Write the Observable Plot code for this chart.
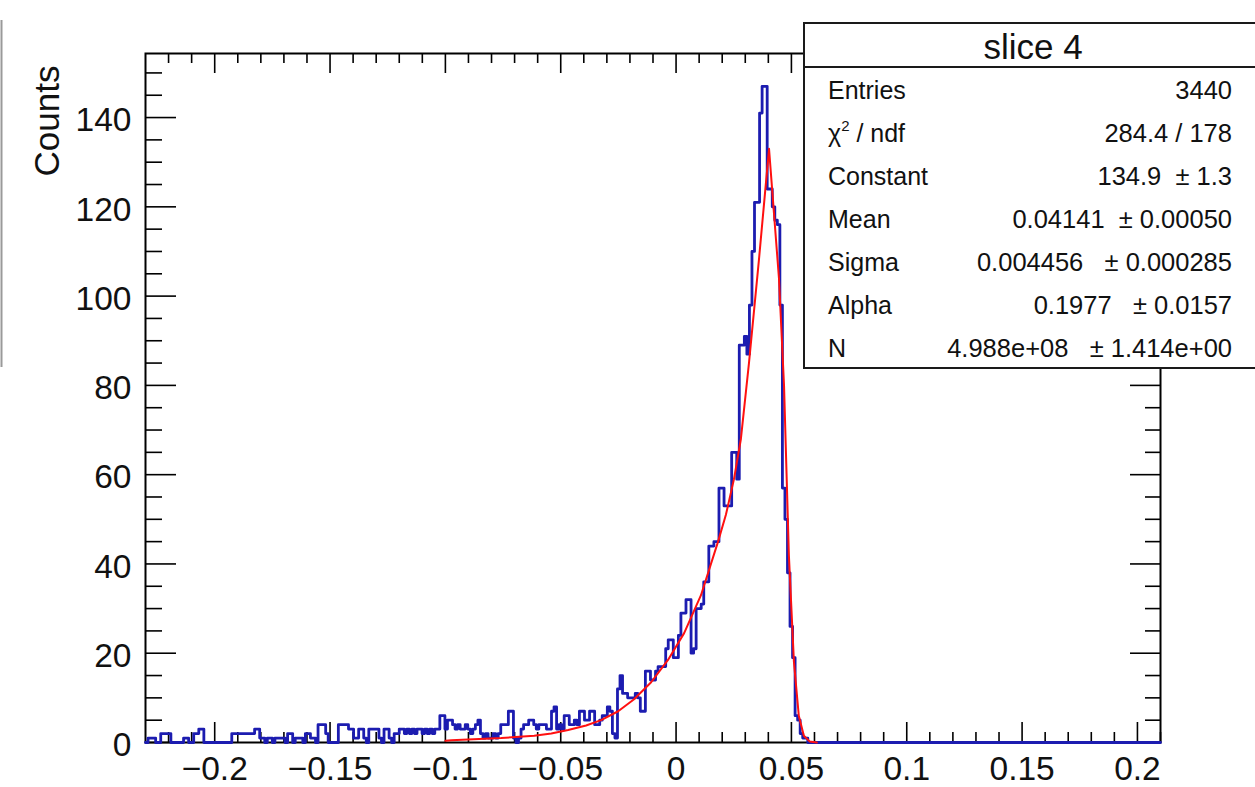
<!DOCTYPE html>
<html><head><meta charset="utf-8">
<script src="https://cdn.jsdelivr.net/npm/d3@7"></script>
<script src="https://cdn.jsdelivr.net/npm/@observablehq/plot@0.6"></script>
<style>
html,body{margin:0;padding:0;background:#fff;}
#wrap{position:relative;width:1255px;height:787px;overflow:hidden;background:#fff;}
#wrap svg{position:absolute;left:0;top:0;}
</style></head>
<body><div id="wrap"></div>
<script>
// ---- histogram definition (ROOT TH1: 400 bins over [-0.23, 0.21]) ----
const xMin = -0.23, xMax = 0.21, nBins = 400;
const counts = [
0,1,1,1,0,0,2,2,2,2, 0,0,0,0,0,1,1,0,0,2, 2,3,3,0,0,0,0,0,0,0, 0,0,0,0,2,2,2,2,2,2,
2,2,2,3,3,1,1,0,1,1, 0,1,1,1,1,0,2,2,0,1, 1,1,0,2,2,1,1,0,4,4, 4,2,0,0,0,0,4,4,4,4,
3,3,1,1,3,3,1,0,3,3, 3,3,1,0,3,3,1,0,2,2, 3,3,2,3,2,3,2,3,3,2, 3,2,3,2,3,3,6,6,3,5,
5,4,3,4,3,3,4,3,2,3, 4,5,2,1,2,1,1,2,1,2, 4,4,4,7,7,1,0,1,3,4, 4,5,5,4,3,4,4,4,3,3,
7,8,3,4,3,6,6,4,4,5, 4,7,7,5,5,7,7,4,4,5, 6,6,8,7,2,1,12,15,11,11, 10,10,10,11,10,7,7,16,16,14,
14,16,17,17,17,21,23,23,19,19, 24,29,29,32,32,20,21,30,30,31, 36,36,44,44,45,45,57,57,53,53, 53,65,65,59,89,89,91,87,98,110,
121,121,141,147,147,124,124,120,117,116, 98,57,50,38,26,19,6,5,2,1, 1,0,0,0,0,0,0,0,0,0, 0,0,0,0,0,0,0,0,0,0,
0,0,0,0,0,0,0,0,0,0, 0,0,0,0,0,0,0,0,0,0, 0,0,0,0,0,0,0,0,0,0, 0,0,0,0,0,0,0,0,0,0,
0,0,0,0,0,0,0,0,0,0, 0,0,0,0,0,0,0,0,0,0, 0,0,0,0,0,0,0,0,0,0, 0,0,0,0,0,0,0,0,0,0,
0,0,0,0,0,0,0,0,0,0, 0,0,0,0,0,0,0,0,0,0, 0,0,0,0,0,0,0,0,0,0, 0,0,0,0,0,0,0,0,0,0
];
// ---- fitted curve (x, counts) ----
const fitX = [-0.1,-0.0974,-0.0758,-0.0615,-0.0541,-0.0468,-0.039,-0.0325,-0.0251,-0.0182,-0.0108,-0.0035,0.0035,0.0108,0.0182,0.0216,0.0251,0.0281,0.0316,0.0359,0.0403,0.0446,0.0468,0.0489,0.0511,0.0532,0.0554,0.058,0.061];
const fitY = [0.4,0.5,1.0,1.5,2.0,2.8,3.8,5.0,7.0,9.7,13.5,18.5,24.5,33,45,51,59,68,85,108,133,104,80,42,18,6,1.5,0.2,0];
// ---- axes ----
const yMaxAxis = 154.35;
const xMajor = [-0.2,-0.15,-0.1,-0.05,0,0.05,0.1,0.15,0.2];
const xMinor = [-0.22,-0.21,-0.19,-0.18,-0.17,-0.16,-0.14,-0.13,-0.12,-0.11,-0.09,-0.08,-0.07,-0.06,-0.04,-0.03,-0.02,-0.01,0.01,0.02,0.03,0.04,0.06,0.07,0.08,0.09,0.11,0.12,0.13,0.14,0.16,0.17,0.18,0.19,0.21];
const yMajor = [0,20,40,60,80,100,120,140];
const yMinor = [5,10,15,25,30,35,45,50,55,65,70,75,85,90,95,105,110,115,125,130,135,145,150];
const yTitle = "Counts";
// ---- stats box ----
const statTitle = "slice 4";
const statLabels = ["Entries","χ2 / ndf","Constant","Mean","Sigma","Alpha","N"];
const statValues = ["3440","284.4 / 178","134.9  ± 1.3","0.04141  ± 0.00050","0.004456   ± 0.000285","0.1977   ± 0.0157","4.988e+08   ± 1.414e+00"];

const W = 1255, H = 787;
const mL = 145, mR = 95, mT = 53, mB = 45;
const iW = W - mL - mR, iH = H - mT - mB;
const font = '"Liberation Sans", Arial, Helvetica, sans-serif';
const bw = (xMax - xMin) / nBins;
const hist = counts.map((c, i) => ({x: xMin + i * bw, y: c}));
hist.push({x: xMax, y: counts[counts.length - 1]});
const fit = fitX.map((x, i) => ({x, y: fitY[i]}));
const fmt = d3.format("~g");
const tk = "#000";

const chart = Plot.plot({
  width: W, height: H,
  marginLeft: mL, marginRight: mR, marginTop: mT, marginBottom: mB,
  x: {domain: [xMin, xMax], axis: null},
  y: {domain: [0, yMaxAxis], axis: null},
  style: {fontFamily: font, background: "transparent", color: "#000"},
  marks: [
    // ticks, drawn inward on all four sides
    Plot.ruleX(xMajor, {x: d => d, insetTop: iH - 20, stroke: tk, strokeWidth: 1.6}),
    Plot.ruleX(xMinor, {x: d => d, insetTop: iH - 10, stroke: tk, strokeWidth: 1.6}),
    Plot.ruleX(xMajor, {x: d => d, insetBottom: iH - 20, stroke: tk, strokeWidth: 1.6}),
    Plot.ruleX(xMinor, {x: d => d, insetBottom: iH - 10, stroke: tk, strokeWidth: 1.6}),
    Plot.ruleY(yMajor, {y: d => d, insetRight: iW - 31, stroke: tk, strokeWidth: 1.6}),
    Plot.ruleY(yMinor, {y: d => d, insetRight: iW - 17, stroke: tk, strokeWidth: 1.6}),
    Plot.ruleY(yMajor, {y: d => d, insetLeft: iW - 30, stroke: tk, strokeWidth: 1.6}),
    Plot.ruleY(yMinor, {y: d => d, insetLeft: iW - 15, stroke: tk, strokeWidth: 1.6}),
    Plot.frame({stroke: tk, strokeWidth: 2}),
    // tick labels
    Plot.text(xMajor, {x: d => d, frameAnchor: "bottom", dy: 27, text: d => fmt(d), fontSize: 33.5, fill: "#111", lineAnchor: "middle"}),
    Plot.text(yMajor, {y: d => d, frameAnchor: "left", dx: -14, dy: 3, text: d => String(d), fontSize: 33.5, fill: "#111", textAnchor: "end", lineAnchor: "middle"}),
    Plot.text([yTitle], {frameAnchor: "top-left", dx: -87, dy: 12, text: d => d, rotate: -90, textAnchor: "end", lineAnchor: "bottom", fontSize: 35, fill: "#111"}),
    // histogram outline
    Plot.line(hist, {x: "x", y: "y", curve: "step-after", stroke: "#1c1cb0", strokeWidth: 2.8}),
    // fit function
    Plot.line(fit, {x: "x", y: "y", stroke: "#ff1010", strokeWidth: 2})
  ]
});
document.getElementById("wrap").appendChild(chart);

// overlay: stats box and the window edge at left
const ov = d3.select("#wrap").append("svg").attr("width", W).attr("height", H)
  .style("font-family", font).style("pointer-events", "none");
ov.append("line").attr("x1", 1.5).attr("x2", 1.5).attr("y1", 20).attr("y2", 367)
  .attr("stroke", "#9a9a9a").attr("stroke-width", 2);
const bx = 804, by = 23, bwid = 460, bh = 345;
ov.append("rect").attr("x", bx).attr("y", by).attr("width", bwid).attr("height", bh)
  .attr("fill", "#fff").attr("stroke", "#1a1a1a").attr("stroke-width", 2);
ov.append("line").attr("x1", bx).attr("x2", W).attr("y1", 67).attr("y2", 67)
  .attr("stroke", "#1a1a1a").attr("stroke-width", 2);
ov.append("text").attr("x", 1033).attr("y", 59).attr("text-anchor", "middle")
  .attr("font-size", 35).attr("fill", "#111").text(statTitle);
statLabels.forEach((lab, k) => {
  const yb = 99 + 43 * k;
  const t = ov.append("text").attr("x", 828).attr("y", yb).attr("font-size", 25).attr("fill", "#111");
  if (lab.startsWith("χ2")) {
    t.append("tspan").text("χ");
    t.append("tspan").attr("font-size", 15).attr("dy", -11).text("2");
    t.append("tspan").attr("dy", 11).text(" / ndf");
  } else {
    t.text(lab);
  }
  ov.append("text").attr("x", 1232).attr("y", yb).attr("text-anchor", "end")
    .attr("xml:space", "preserve")
    .attr("font-size", 25.5).attr("fill", "#111").style("white-space", "pre").text(statValues[k]);
});
</script>
</body></html>
